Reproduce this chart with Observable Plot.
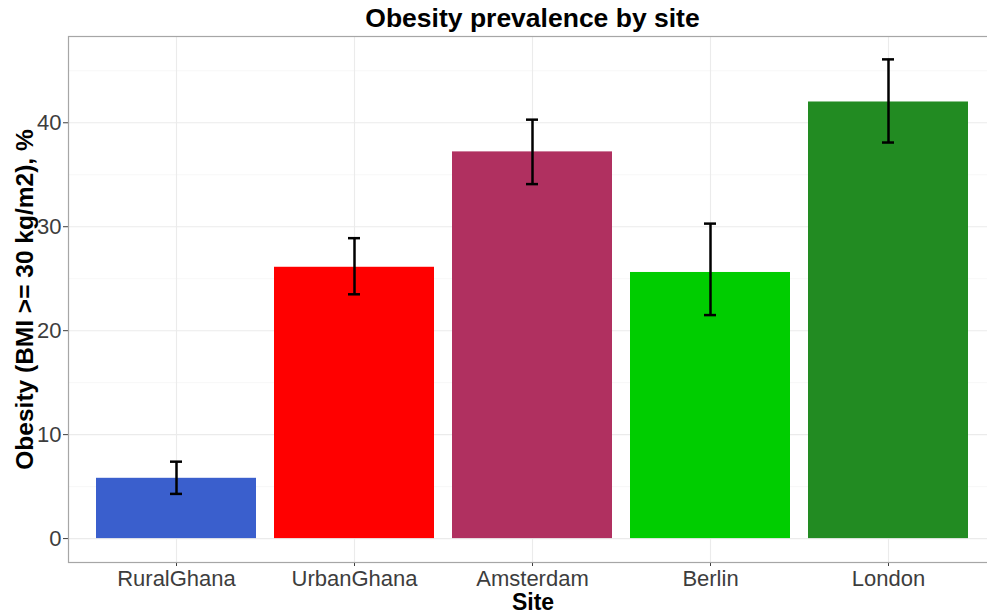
<!DOCTYPE html>
<html>
<head>
<meta charset="utf-8">
<script src="https://cdn.jsdelivr.net/npm/d3@7"></script>
<script src="https://cdn.jsdelivr.net/npm/@observablehq/plot@0.6"></script>
<style>
  html, body { margin: 0; padding: 0; background: #fff; overflow: hidden; width: 987px; height: 615px; }
  #title { height: 35px; width: 929px; margin-left: 68px; text-align: center;
           font: bold 26.5px "Liberation Sans", Arial, sans-serif; line-height: 36px; color: #000; white-space: nowrap; }
  #chart { width: 987px; height: 580px; overflow: hidden; }
  #chart svg { max-width: none !important; }
  #chart [aria-label^="y-axis"] line, #chart [aria-label^="x-axis"] line { stroke: #333; }
</style>
</head>
<body>
<div id="title">Obesity prevalence by site</div>
<div id="chart"></div>
<script>
const sites = ["RuralGhana", "UrbanGhana", "Amsterdam", "Berlin", "London"];
const prevalence = [5.8, 26.1, 37.2, 25.6, 42.0];
const lower = [4.3, 23.5, 34.1, 21.5, 38.1];
const upper = [7.4, 28.9, 40.3, 30.3, 46.1];
const colors = ["#3A5FCD", "#FF0000", "#B03060", "#00CD00", "#228B22"];
const majorTicks = [0, 10, 20, 30, 40];
const minorTicks = [5, 15, 25, 35, 45];
const xTitle = "Site";
const yTitle = "Obesity (BMI >= 30 kg/m2), %";

const data = sites.map((s, i) => ({site: s, value: prevalence[i], lo: lower[i], hi: upper[i]}));

const plot = Plot.plot({
  width: 997,
  height: 580,
  marginTop: 1,
  marginBottom: 53,
  marginLeft: 68,
  marginRight: 0,
  style: {fontFamily: '"Liberation Sans", Arial, sans-serif', fontSize: "22px", color: "#3d3d3d", background: "#fff", maxWidth: "none"},
  x: {domain: sites, paddingInner: 0.1, paddingOuter: 0.15, tickSize: 4, tickPadding: 4, label: null},
  y: {domain: [-2.3, 48.3], ticks: majorTicks, tickSize: 5, tickPadding: 2, label: null},
  color: {domain: sites, range: colors},
  marks: [
    Plot.ruleY(minorTicks, {stroke: "#f3f3f3", strokeWidth: 0.7}),
    Plot.ruleY(majorTicks, {stroke: "#ebebeb", strokeWidth: 1.1}),
    Plot.ruleX(sites, {stroke: "#ebebeb", strokeWidth: 1.1}),
    Plot.barY(data, {x: "site", y: "value", fill: "site"}),
    Plot.ruleX(data, {x: "site", y1: "lo", y2: "hi", stroke: "#000", strokeWidth: 2.5}),
    Plot.tickY(data, {x: "site", y: "lo", stroke: "#000", strokeWidth: 2.5, insetLeft: 74, insetRight: 74}),
    Plot.tickY(data, {x: "site", y: "hi", stroke: "#000", strokeWidth: 2.5, insetLeft: 74, insetRight: 74}),
    Plot.frame({stroke: "#a6a6a6", strokeWidth: 1.2}),
    Plot.text([yTitle], {frameAnchor: "left", rotate: -90, dx: -43, textAnchor: "middle", lineAnchor: "middle", fontSize: 24.5, fontWeight: "bold", fill: "#000"}),
    Plot.text([xTitle], {frameAnchor: "bottom", dy: 40, textAnchor: "middle", lineAnchor: "middle", fontSize: 23, fontWeight: "bold", fill: "#000"})
  ]
});
document.getElementById("chart").appendChild(plot);
</script>
</body>
</html>
